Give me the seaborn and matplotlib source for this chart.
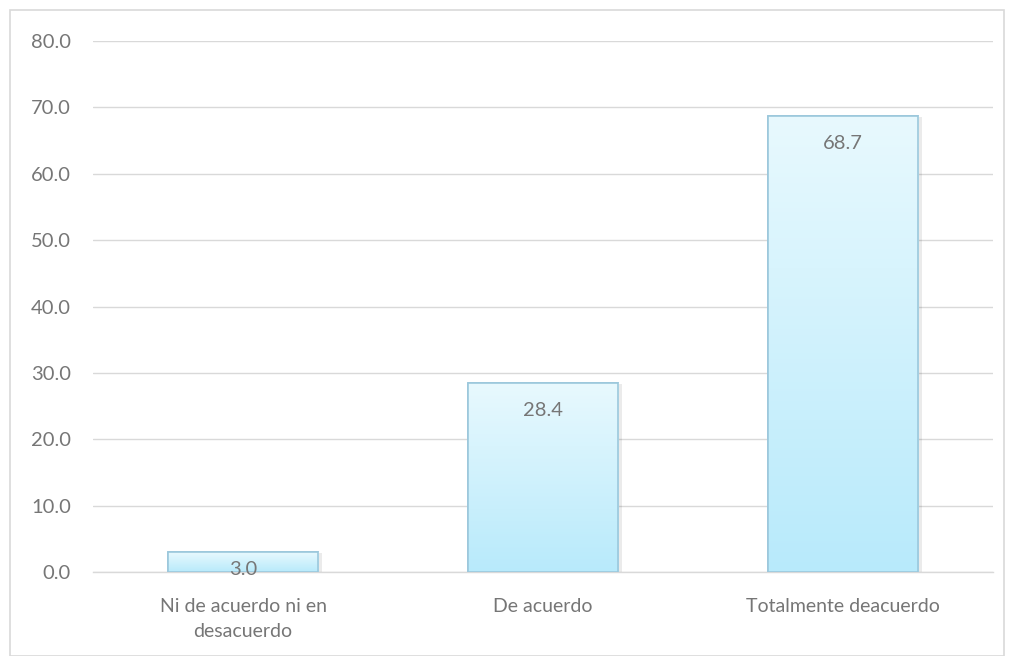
import matplotlib
matplotlib.use("Agg")
import matplotlib.pyplot as plt
import seaborn as sns
import numpy as np
import pandas as pd
from matplotlib.patches import Rectangle

categories = ["Ni de acuerdo ni en\ndesacuerdo", "De acuerdo", "Totalmente deacuerdo"]
values = [3.0, 28.4, 68.7]
yticks = [0, 10, 20, 30, 40, 50, 60, 70, 80]

sns.set_theme(style="white")
plt.rcParams['font.family'] = ['Lato', 'DejaVu Sans']

df = pd.DataFrame({"cat": categories, "val": values})

fig = plt.figure(figsize=(10.1, 6.56), dpi=100)
ax = fig.add_axes([93/1010, 1 - 572/656, 900/1010, 531/656])

sns.barplot(data=df, x="cat", y="val", ax=ax, width=0.503,
            color="#d0f1fc", edgecolor="#95c3d8", linewidth=1.2, zorder=3)

# gradient fill clipped to bars
grad = np.linspace(0, 1, 256).reshape(-1, 1)
top = np.array([0xe8, 0xf9, 0xfe]) / 255
bot = np.array([0xb8, 0xea, 0xfb]) / 255
img = top[None, None, :] * (1 - grad[:, :, None]) + bot[None, None, :] * grad[:, :, None]
for p in ax.patches:
    x0, y0 = p.get_x(), p.get_y()
    w, h = p.get_width(), p.get_height()
    sh = Rectangle((x0 + 0.012, y0), w, h - 0.15, facecolor="#000000", alpha=0.08,
                   edgecolor="none", zorder=2.5)
    ax.add_patch(sh)
    im = ax.imshow(img, extent=[x0, x0 + w, y0, y0 + h], aspect="auto",
                   origin="upper", zorder=3.1)
    im.set_clip_path(p)
    edge = Rectangle((x0, y0), w, h, facecolor="none", edgecolor="#9cc8dc",
                     linewidth=1.2, zorder=3.2)
    ax.add_patch(edge)

for i, v in enumerate(values):
    ax.text(i, max(v - 4.1, 0.45), f"{v:.1f}", ha="center", va="center",
            fontsize=14.5, color="#767676", zorder=5)

ax.set_xlim(-0.5, 2.5)
ax.set_ylim(0, 80)
ax.set_yticks(yticks)
ax.set_yticklabels([f"{t:.1f}" for t in yticks])
ax.yaxis.grid(True, color="#d9d9d9", linewidth=1.0, zorder=0)
ax.set_axisbelow(True)
for s in ["top", "right", "left"]:
    ax.spines[s].set_visible(False)
ax.spines["bottom"].set_color("#d9d9d9")
ax.spines["bottom"].set_linewidth(1.0)
ax.tick_params(axis="y", length=0, pad=16, labelsize=14.5, labelcolor="#767676")
ax.tick_params(axis="x", length=0, pad=19, labelsize=14, labelcolor="#767676")
ax.set_xlabel("")
ax.set_ylabel("")
for lbl in ax.get_xticklabels():
    lbl.set_linespacing(1.55)

# outer border
fig.patches.append(Rectangle((10/1010, 0), 994/1010, 1 - 10/656, transform=fig.transFigure,
                             facecolor="none", edgecolor="#d9d9d9", linewidth=1.2))

fig.savefig("out.png", dpi=100, facecolor="white")
